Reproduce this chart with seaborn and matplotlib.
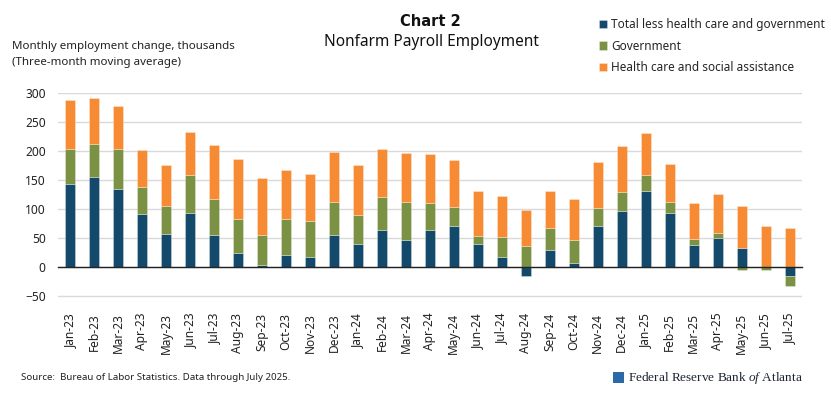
import numpy as np
import pandas as pd
import seaborn as sns
import matplotlib.pyplot as plt
from matplotlib.patches import Rectangle

months = ["Jan-23", "Feb-23", "Mar-23", "Apr-23", "May-23", "Jun-23", "Jul-23", "Aug-23",
          "Sep-23", "Oct-23", "Nov-23", "Dec-23", "Jan-24", "Feb-24", "Mar-24", "Apr-24",
          "May-24", "Jun-24", "Jul-24", "Aug-24", "Sep-24", "Oct-24", "Nov-24", "Dec-24",
          "Jan-25", "Feb-25", "Mar-25", "Apr-25", "May-25", "Jun-25", "Jul-25"]
total_less = [144, 155, 135, 92, 57, 93, 55, 25, 3, 20, 18, 56, 40, 63, 47, 64,
              71, 40, 17, -16, 29, 7, 70, 97, 131, 93, 38, 50, 33, 0, -16]
government = [60, 58, 69, 46, 49, 65, 62, 58, 52, 62, 61, 56, 49, 58, 65, 47,
              33, 14, 35, 36, 39, 39, 31, 33, 28, 20, 10, 9, -6, -5, -17]
health_care = [84, 79, 74, 64, 70, 75, 93, 104, 99, 85, 82, 87, 87, 82, 84, 84,
               81, 78, 70, 62, 64, 72, 80, 79, 72, 65, 63, 67, 72, 70, 68]

series = ["Total less health care and government", "Government", "Health care and social assistance"]
colors = ["#134a6b", "#7b9143", "#f68b33"]

df = pd.DataFrame({"month": months, series[0]: total_less,
                   series[1]: government, series[2]: health_care})

sns.set_theme(style="white")
plt.rcParams["font.family"] = ["Noto Sans", "DejaVu Sans"]

fig = plt.figure(figsize=(8.31, 3.96), dpi=100)
ax = fig.add_axes([0.0698, 0.2482, 0.895, 0.5170])

# stack like excel: positives up from 0, negatives down from 0
pos_base = np.zeros(len(months))
neg_base = np.zeros(len(months))
for s, c in zip(series, colors):
    v = df[s].to_numpy(dtype=float)
    bottom = np.where(v >= 0, pos_base, neg_base)
    sns.barplot(data=df, x="month", y=s, order=months, color=c, saturation=1,
                width=0.4, errorbar=None, bottom=bottom, label=s, ax=ax,
                edgecolor=(1, 1, 1, 0.35), linewidth=0.6)
    pos_base += np.clip(v, 0, None)
    neg_base += np.clip(v, None, 0)

ax.set_ylim(-53, 300.3)
ax.set_yticks(range(-50, 301, 50))
ax.set_xlim(-0.5, len(months) - 0.5)
ax.grid(axis="y", color="#d9d9d9", linewidth=1)
ax.set_axisbelow(True)
for sp in ["top", "right", "left"]:
    ax.spines[sp].set_visible(False)
ax.spines["bottom"].set_position(("data", 0))
ax.spines["bottom"].set_color("#222222")
ax.spines["bottom"].set_linewidth(1)
ax.spines["bottom"].set_zorder(3)
ax.set_xticks(np.arange(-0.5, len(months), 1), minor=True)
ax.tick_params(axis="x", which="major", length=0, pad=33, labelsize=8.6,
               labelrotation=90, labelcolor="#222222")
ax.tick_params(axis="x", which="minor", length=4, width=0.8, color="#222222", direction="out")
ax.tick_params(axis="y", length=0, pad=9, labelsize=8.6, labelcolor="#222222")
ax.set_xlabel("")
ax.set_ylabel("")

handles, labels = ax.get_legend_handles_labels()
if ax.get_legend() is not None:
    ax.get_legend().remove()
fig.legend(handles, labels, loc="upper left", bbox_to_anchor=(599 / 831, 1 - 18 / 396),
           frameon=False, fontsize=8.5, handlelength=0.7, handleheight=0.7,
           handletextpad=0.35, labelspacing=0.74, borderpad=0, borderaxespad=0)

fig.text(430 / 831, 1 - 21 / 396, "Chart 2", ha="center", va="center", family="DejaVu Sans",
         fontsize=10.5, fontweight="bold", color="#111111")
fig.text(431 / 831, 1 - 42 / 396, "Nonfarm Payroll Employment", ha="center", va="center",
         fontsize=11.1, color="#111111")
fig.text(12 / 831, 1 - 47 / 396, "Monthly employment change, thousands", ha="left",
         va="center", fontsize=8.3, color="#222222")
fig.text(12 / 831, 1 - 62 / 396, "(Three-month moving average)", ha="left",
         va="center", fontsize=8.3, color="#222222")
fig.text(21 / 831, 1 - 378 / 396, "Source:  Bureau of Labor Statistics. Data through July 2025.",
         ha="left", va="center", fontsize=7.0, color="#222222")

# bank logo
fig.patches.append(Rectangle((613 / 831, 1 - 383 / 396), 11 / 831, 11 / 396,
                             transform=fig.transFigure, facecolor="#2b6aa6", edgecolor="none"))
plt.rcParams["mathtext.fontset"] = "custom"
plt.rcParams["mathtext.it"] = "Liberation Serif:italic"
plt.rcParams["mathtext.rm"] = "Liberation Serif"
fig.text(628 / 831, 1 - 378 / 396, r"Federal Reserve Bank $\mathit{of}$ Atlanta",
         family="Liberation Serif", ha="left", va="center", fontsize=9.5, color="#1a2433")

fig.savefig("out.png", dpi=100)
